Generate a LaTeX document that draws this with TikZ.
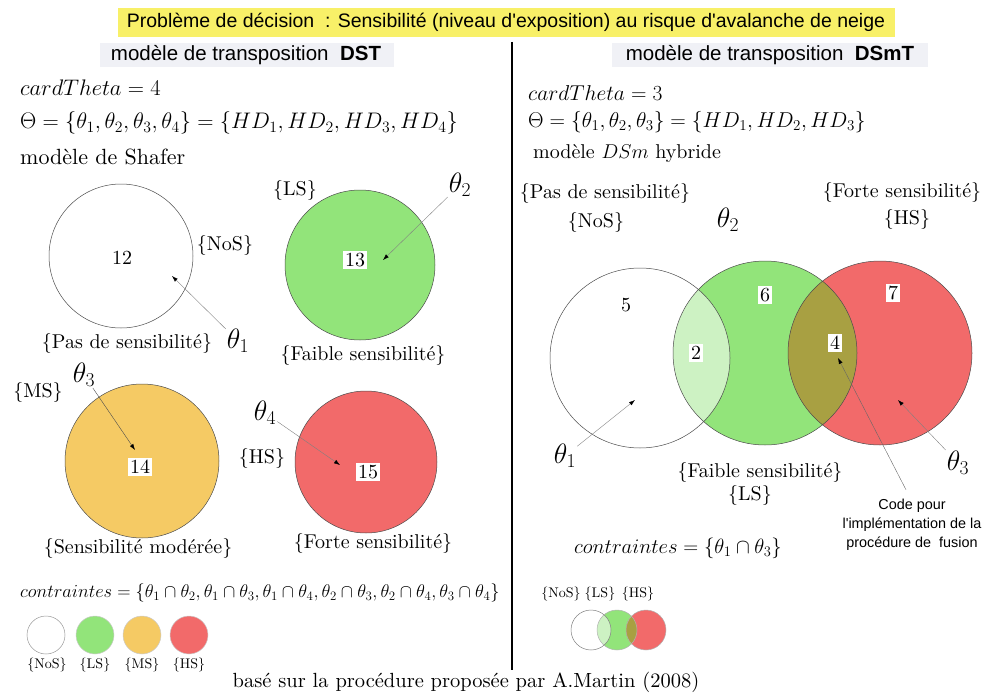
\RequirePackage{fix-cm}
\documentclass[tikz,border=0pt]{standalone}
\usepackage{fontspec}
\setmainfont{lmroman10-regular.otf}[BoldFont=lmroman10-bold.otf, ItalicFont=lmroman10-italic.otf]
\newfontfamily\arialfont{Liberation Sans}
\usetikzlibrary{arrows.meta}

\definecolor{lsgreen}{RGB}{146,228,122}
\definecolor{msyellow}{RGB}{245,202,100}
\definecolor{hsred}{RGB}{242,106,106}
\definecolor{mixolive}{RGB}{168,160,66}
\definecolor{titleyellow}{RGB}{248,240,104}
\definecolor{headgray}{RGB}{240,241,246}

\tikzset{
  lbl/.style={font=\fontsize{20}{23}\selectfont, inner sep=1pt},
  txt/.style={font=\fontsize{22.5}{26}\selectfont, inner sep=0pt, anchor=west},
  num/.style={font=\fontsize{20}{24}\selectfont, fill=white, inner sep=2pt},
  tht/.style={font=\fontsize{28}{32}\selectfont, inner sep=1pt},
  leg/.style={font=\fontsize{14}{17}\selectfont, inner sep=1pt},
  sans/.style={font=\arialfont\fontsize{20.5}{24}\selectfont},
  pointer/.style={draw=gray, -{Latex[black,length=6pt,width=4pt]}},
  ring/.style={draw=black!70, line width=0.5pt}
}

\begin{document}
\begin{tikzpicture}[x=1pt, y=-1pt]
\useasboundingbox (0,0) rectangle (985,693);

% title band
\fill[titleyellow] (118,8) rectangle (895,37);
\node[sans, font=\arialfont\fontsize{19.5}{22}\selectfont] (title) at (506,22)
  {Problème de décision~ : Sensibilité (niveau d'exposition) au risque d'avalanche de neige};

% column heads
\fill[headgray] (100,43) rectangle (394,67);
\fill[headgray] (612,43) rectangle (928,67);
\node[sans] (headDST) at (246,55) {modèle de transposition~ \textbf{DST}};
\node[sans] (headDSmT) at (770,55) {modèle de transposition~ \textbf{DSmT}};

% separator
\draw[line width=2.5pt] (512,42) -- (512,670);

% ---------- DST side ----------
\node[txt] (cardL) at (20,88) {$cardTheta = 4$};
\node[txt] (thetaL) at (20,123) {$\Theta = \{\theta_1, \theta_2, \theta_3, \theta_4\} = \{HD_1, HD_2, HD_3, HD_4\}$};
\node[txt, font=\fontsize{22}{26}\selectfont] (shafer) at (20,157) {modèle de Shafer};

% four disjoint sets
\draw[ring, fill=white] (121,256) circle (72pt);
\draw[ring, fill=lsgreen] (360,265) circle (75pt);
\draw[ring, fill=msyellow] (142,461) circle (77pt);
\draw[ring, fill=hsred] (366,462) circle (71pt);

\node[num, fill=none] (n12) at (122,258) {12};
\node[num] (n13) at (355,260) {13};
\node[num] (n14) at (140,467) {14};
\node[num] (n15) at (368,472) {15};

\node[lbl] (nosL) at (225,245) {\{NoS\}};
\node[lbl] (lsL) at (295,190) {\{LS\}};
\node[lbl] (msL) at (38,392) {\{MS\}};
\node[lbl] (hsL) at (262,458) {\{HS\}};

\node[lbl] (pasL) at (127,343) {\{Pas de sensibilité\}};
\node[lbl] (faibleL) at (363,355) {\{Faible sensibilité\}};
\node[lbl] (moderee) at (138,548) {\{Sensibilité modérée\}};
\node[lbl] (forteL) at (373,543) {\{Forte sensibilité\}};

\node[tht] (t1L) at (238,341) {$\theta_1$};
\node[tht] (t2L) at (460,185) {$\theta_2$};
\node[tht] (t3L) at (84,375) {$\theta_3$};
\node[tht] (t4L) at (265,413) {$\theta_4$};

\coordinate (p1L) at (172,276);
\coordinate (p2L) at (383,260);
\coordinate (p3L) at (135,450);
\coordinate (p4L) at (340,465);
\draw[pointer] (t1L) -- (p1L);
\draw[pointer] (t2L) -- (p2L);
\draw[pointer, draw=black!70] (t3L) -- (p3L);
\draw[pointer] (t4L) -- (p4L);

\node[txt, font=\fontsize{18.4}{21}\selectfont] (contrL) at (20,593)
  {$contraintes = \{\theta_1\cap\theta_2, \theta_1\cap\theta_3, \theta_1\cap\theta_4, \theta_2\cap\theta_3, \theta_2\cap\theta_4, \theta_3\cap\theta_4\}$};

% legend
\draw[ring, draw=black!40, fill=white] (46,635) circle (19pt);
\draw[ring, draw=black!20, fill=lsgreen] (95,635) circle (19pt);
\draw[ring, draw=black!20, fill=msyellow] (142,635) circle (19pt);
\draw[ring, draw=black!20, fill=hsred] (189,635) circle (19pt);
\node[leg] (legNoS) at (47,665) {\{NoS\}};
\node[leg] (legLS) at (95,665) {\{LS\}};
\node[leg] (legMS) at (142,665) {\{MS\}};
\node[leg] (legHS) at (189,665) {\{HS\}};

% ---------- DSmT side ----------
\node[txt, font=\fontsize{21.5}{25}\selectfont] (cardR) at (528,93) {$cardTheta = 3$};
\node[txt, font=\fontsize{21.5}{25}\selectfont] (thetaR) at (528,122) {$\Theta = \{\theta_1, \theta_2, \theta_3\} = \{HD_1, HD_2, HD_3\}$};
\node[txt, font=\fontsize{20}{24}\selectfont] (hybride) at (533,154) {modèle $DSm$ hybride};

% hybrid Venn diagram
\fill[lsgreen] (765,353) circle (92pt);
\fill[white, opacity=0.55] (640,358) circle (90pt);
\fill[hsred] (880,353) circle (92pt);
\begin{scope}
  \clip (765,353) circle (92pt);
  \fill[mixolive] (880,353) circle (92pt);
\end{scope}
\draw[ring] (640,358) circle (90pt);
\draw[ring] (765,353) circle (92pt);
\draw[ring] (880,353) circle (92pt);

\node[num, fill=none] (n5) at (626,305) {5};
\node[num] (n6) at (765,295) {6};
\node[num] (n7) at (893,293) {7};
\node[num] (n2) at (696,353) {2};
\node[num] (n4) at (835,343) {4};

\node[lbl] (pasR) at (605,193) {\{Pas de sensibilité\}};
\node[lbl] (nosR) at (596,222) {\{NoS\}};
\node[lbl] (forteR) at (902,192) {\{Forte sensibilité\}};
\node[lbl] (hsR) at (907,219) {\{HS\}};
\node[lbl] (faibleR) at (760,472) {\{Faible sensibilité\}};
\node[lbl] (lsR) at (750,495) {\{LS\}};

\node[tht] (t1R) at (565,456) {$\theta_1$};
\node[tht] (t2R) at (728,220) {$\theta_2$};
\node[tht] (t3R) at (958,463) {$\theta_3$};

\coordinate (p1R) at (635,400);
\coordinate (p3R) at (898,400);
\coordinate (p4R) at (838,358);
\draw[pointer] (t1R) -- (p1R);
\draw[pointer] (t3R) -- (p3R);

\node[sans, font=\arialfont\fontsize{14.4}{19}\selectfont, align=center] (code) at (912,525)
  {Code pour\\l'implémentation de la\\procédure de~ fusion};
\draw[pointer, draw=black!60] (code.north) ++(-6,-6) -- (p4R);

\node[lbl, font=\fontsize{20.7}{24}\selectfont] (contrR) at (678,548) {$contraintes = \{\theta_1\cap\theta_3\}$};

% small legend
\node[leg] (legNoSR) at (561,594) {\{NoS\}};
\node[leg] (legLSR) at (600,594) {\{LS\}};
\node[leg] (legHSR) at (638,594) {\{HS\}};
\fill[lsgreen] (617,630) circle (20pt);
\fill[white, opacity=0.55] (591,630) circle (20pt);
\fill[hsred] (646,630) circle (20pt);
\begin{scope}
  \clip (617,630) circle (20pt);
  \fill[mixolive] (646,630) circle (20pt);
\end{scope}
\draw[ring, draw=black!50] (591,630) circle (20pt);
\draw[ring, draw=black!30] (617,630) circle (20pt);
\draw[ring, draw=black!30] (646,630) circle (20pt);

% source
\node[lbl, font=\fontsize{20.5}{24}\selectfont] (source) at (466,682) {basé sur la procédure proposée par A.Martin (2008)};

\end{tikzpicture}
\end{document}
